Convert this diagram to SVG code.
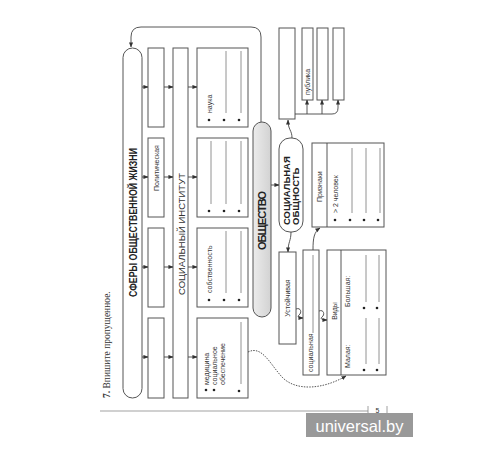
<svg xmlns="http://www.w3.org/2000/svg" width="500" height="450" viewBox="0 0 500 450">
<defs>
<marker id="ah" viewBox="0 0 6 6" refX="5.5" refY="3" markerWidth="5" markerHeight="5" orient="auto" markerUnits="userSpaceOnUse"><path d="M0,0.5 L6,3 L0,5.5 Z" fill="#333"/></marker>
<linearGradient id="g" x1="0" y1="0" x2="1" y2="0"><stop offset="0" stop-color="#ececec"/><stop offset="1" stop-color="#d2d2d2"/></linearGradient>
</defs>
<style>
.bx{fill:#fff;stroke:#555;stroke-width:1}
.ln{stroke:#777;stroke-width:0.8;fill:none}
.c{stroke:#444;stroke-width:0.9;fill:none}
.t{font-family:'Liberation Sans',Arial,sans-serif;font-size:7px;fill:#333}
.b{font-weight:bold;fill:#222}
.d{fill:#222}
</style>
<rect width="500" height="450" fill="#fff"/>

<text class="t" style="font-family:'Liberation Serif','Times New Roman',serif;font-size:9.5px" transform="translate(110,398) rotate(-90)"><tspan font-weight="bold">7.</tspan> Впишите пропущенное.</text>

<g id="spheres">
<rect class="bx" x="123" y="48" width="19" height="350" rx="9.5"/>
<text class="t b" style="font-size:10px" textLength="149" lengthAdjust="spacingAndGlyphs" transform="translate(136.5,297) rotate(-90)">СФЕРЫ ОБЩЕСТВЕННОЙ ЖИЗНИ</text>
</g>

<g id="sphere-boxes">
<rect class="bx" x="148" y="48" width="16" height="79"/>
<rect class="bx" x="148" y="138" width="16" height="79"/>
<rect class="bx" x="148" y="228" width="16" height="79"/>
<rect class="bx" x="148" y="318" width="16" height="80"/>
<text class="t" transform="translate(158.5,191) rotate(-90)">Политическая</text>
</g>

<g id="institute">
<rect class="bx" x="173" y="48" width="15" height="350"/>
<text class="t" style="font-size:9.5px" textLength="122" transform="translate(184.5,295) rotate(-90)">СОЦИАЛЬНЫЙ ИНСТИТУТ</text>
</g>

<g id="inst-box-1">
<rect class="bx" x="197" y="48" width="51" height="79"/>
<circle class="d" cx="209" cy="120" r="1.3"/><circle class="d" cx="224" cy="120" r="1.3"/><circle class="d" cx="239" cy="120" r="1.3"/>
<text class="t" transform="translate(211.5,113) rotate(-90)">наука</text>
<line class="ln" x1="226" y1="51" x2="226" y2="113"/><line class="ln" x1="241" y1="51" x2="241" y2="113"/>
</g>
<g id="inst-box-2">
<rect class="bx" x="197" y="138" width="51" height="79"/>
<circle class="d" cx="209" cy="211" r="1.3"/><circle class="d" cx="224" cy="211" r="1.3"/><circle class="d" cx="239" cy="211" r="1.3"/>
<line class="ln" x1="211" y1="141" x2="211" y2="204"/><line class="ln" x1="226" y1="141" x2="226" y2="204"/><line class="ln" x1="241" y1="141" x2="241" y2="204"/>
</g>
<g id="inst-box-3">
<rect class="bx" x="197" y="228" width="51" height="79"/>
<circle class="d" cx="209" cy="300" r="1.3"/><circle class="d" cx="224" cy="300" r="1.3"/><circle class="d" cx="239" cy="300" r="1.3"/>
<text class="t" transform="translate(211.5,293) rotate(-90)">собственность</text>
<line class="ln" x1="226" y1="231" x2="226" y2="293"/><line class="ln" x1="241" y1="231" x2="241" y2="293"/>
</g>
<g id="inst-box-4">
<rect class="bx" x="197" y="318" width="51" height="80"/>
<circle class="d" cx="206" cy="390" r="1.3"/><circle class="d" cx="214" cy="390" r="1.3"/><circle class="d" cx="239" cy="391" r="1.3"/>
<text class="t" transform="translate(208.5,385) rotate(-90)">медицина</text>
<text class="t" transform="translate(216.5,385) rotate(-90)">социальное</text>
<text class="t" transform="translate(224.5,385) rotate(-90)">обеспечение</text>
<line class="ln" x1="241" y1="322" x2="241" y2="384"/>
</g>

<g id="society">
<rect x="253" y="122" width="18" height="195" rx="9" fill="url(#g)" stroke="#555" stroke-width="1"/>
<text class="t b" style="font-size:11px" textLength="59" transform="translate(266,250) rotate(-90)">ОБЩЕСТВО</text>
</g>

<g id="community">
<rect class="bx" x="279" y="138" width="24" height="94" rx="11"/>
<text class="t b" style="font-size:9.5px" transform="translate(289.5,225) rotate(-90)">СОЦИАЛЬНАЯ</text>
<text class="t b" style="font-size:9.5px" transform="translate(298.5,225) rotate(-90)">ОБЩНОСТЬ</text>
</g>

<g id="top-boxes">
<rect class="bx" x="279" y="28" width="16" height="91"/>
<rect class="bx" x="302" y="28" width="11" height="72"/>
<rect class="bx" x="317" y="28" width="11" height="72"/>
<rect class="bx" x="333" y="28" width="11" height="72"/>
<text class="t" transform="translate(309.5,95) rotate(-90)">публика</text>
</g>

<g id="signs">
<rect class="bx" x="312" y="143" width="72" height="84"/>
<line class="c" x1="327" y1="143" x2="327" y2="227"/>
<text class="t" transform="translate(321.5,202) rotate(-90)">Признаки</text>
<circle class="d" cx="335" cy="220" r="1.3"/><circle class="d" cx="350" cy="220" r="1.3"/><circle class="d" cx="364" cy="220" r="1.3"/><circle class="d" cx="378" cy="220" r="1.3"/>
<text class="t" transform="translate(337.5,213) rotate(-90)">&gt; 2 человек</text>
<line class="ln" x1="352" y1="148" x2="352" y2="213"/><line class="ln" x1="366" y1="148" x2="366" y2="213"/><line class="ln" x1="380" y1="148" x2="380" y2="213"/>
</g>

<g id="stable">
<rect class="bx" x="279" y="252" width="17" height="92"/>
<text class="t" text-anchor="middle" transform="translate(289.5,298) rotate(-90)">Устойчивая</text>
</g>

<g id="social">
<rect class="bx" x="303" y="250" width="16" height="125"/>
<text class="t" transform="translate(312.5,372) rotate(-90)">социальная</text>
<line class="ln" x1="313" y1="333" x2="313" y2="255"/>
</g>

<g id="kinds">
<rect class="bx" x="327" y="250" width="59" height="125"/>
<line class="c" x1="341" y1="250" x2="341" y2="375"/>
<text class="t" text-anchor="middle" transform="translate(336.5,311) rotate(-90)">Виды</text>
<text class="t" transform="translate(349.5,368) rotate(-90)">Малая:</text>
<text class="t" transform="translate(349.5,307) rotate(-90)">Большая:</text>
<circle class="d" cx="364" cy="370" r="1.3"/><circle class="d" cx="377" cy="370" r="1.3"/><circle class="d" cx="364" cy="308" r="1.3"/><circle class="d" cx="377" cy="308" r="1.3"/>
<line class="ln" x1="366" y1="364" x2="366" y2="318"/><line class="ln" x1="379" y1="364" x2="379" y2="318"/>
<line class="ln" x1="366" y1="302" x2="366" y2="255"/><line class="ln" x1="379" y1="302" x2="379" y2="255"/>
</g>

<g id="connectors">
<path class="c" d="M261,122 L261,37 Q261,27 251,27 L141,27 Q131,27 131,37 L131,47" marker-end="url(#ah)"/>
<line class="c" x1="142" y1="87" x2="148" y2="87" marker-end="url(#ah)"/>
<line class="c" x1="142" y1="177" x2="148" y2="177" marker-end="url(#ah)"/>
<line class="c" x1="142" y1="267" x2="148" y2="267" marker-end="url(#ah)"/>
<line class="c" x1="142" y1="357" x2="148" y2="357" marker-end="url(#ah)"/>
<line class="c" x1="164" y1="87" x2="173" y2="87" marker-end="url(#ah)"/>
<line class="c" x1="164" y1="177" x2="173" y2="177" marker-end="url(#ah)"/>
<line class="c" x1="164" y1="267" x2="173" y2="267" marker-end="url(#ah)"/>
<line class="c" x1="164" y1="357" x2="173" y2="357" marker-end="url(#ah)"/>
<line class="c" x1="188" y1="87" x2="197" y2="87" marker-end="url(#ah)"/>
<line class="c" x1="188" y1="177" x2="197" y2="177" marker-end="url(#ah)"/>
<line class="c" x1="188" y1="267" x2="197" y2="267" marker-end="url(#ah)"/>
<line class="c" x1="188" y1="357" x2="197" y2="357" marker-end="url(#ah)"/>
<line class="c" x1="271" y1="185" x2="279" y2="185" marker-end="url(#ah)"/>
<path class="c" d="M292,138 C292,130 288,130 288,120" marker-end="url(#ah)"/>
<path class="c" d="M295,114 L332,114 Q338,114 338,108 L338,100" marker-end="url(#ah)"/>
<line class="c" x1="307" y1="114" x2="307" y2="100" marker-end="url(#ah)"/>
<line class="c" x1="322" y1="114" x2="322" y2="100" marker-end="url(#ah)"/>
<path class="c" d="M291,232 C291,241 288,242 288,252" marker-end="url(#ah)"/>
<path class="c" d="M313,250 C313,238 314,232 320,228" marker-end="url(#ah)"/>
<path class="c" d="M296,309 C301,307 302,313 299,315 C297,317 299,318 303,318" marker-end="url(#ah)"/>
<path class="c" d="M319,311 C324,309 325,315 322,317 C320,319 322,320 327,320" marker-end="url(#ah)"/>
<path class="c" d="M248,352 C262,345 270,364 282,377 C295,391 322,390 346,376" stroke-dasharray="1.5,1.2" marker-end="url(#ah)"/>
</g>

<line x1="100" y1="411" x2="368" y2="411" stroke="#d0d0d0" stroke-width="2"/>
<line x1="368" y1="406" x2="368" y2="415" stroke="#888" stroke-width="0.8"/>
<line x1="387" y1="406" x2="387" y2="415" stroke="#888" stroke-width="0.8"/>
<text class="t" text-anchor="middle" x="377.5" y="413">5</text>

<rect x="306" y="413" width="107" height="24" fill="#999"/>
<text x="359.5" y="432" text-anchor="middle" style="font-family:'Liberation Sans',Arial,sans-serif;font-size:16.5px;fill:#fff">universal.by</text>
</svg>
